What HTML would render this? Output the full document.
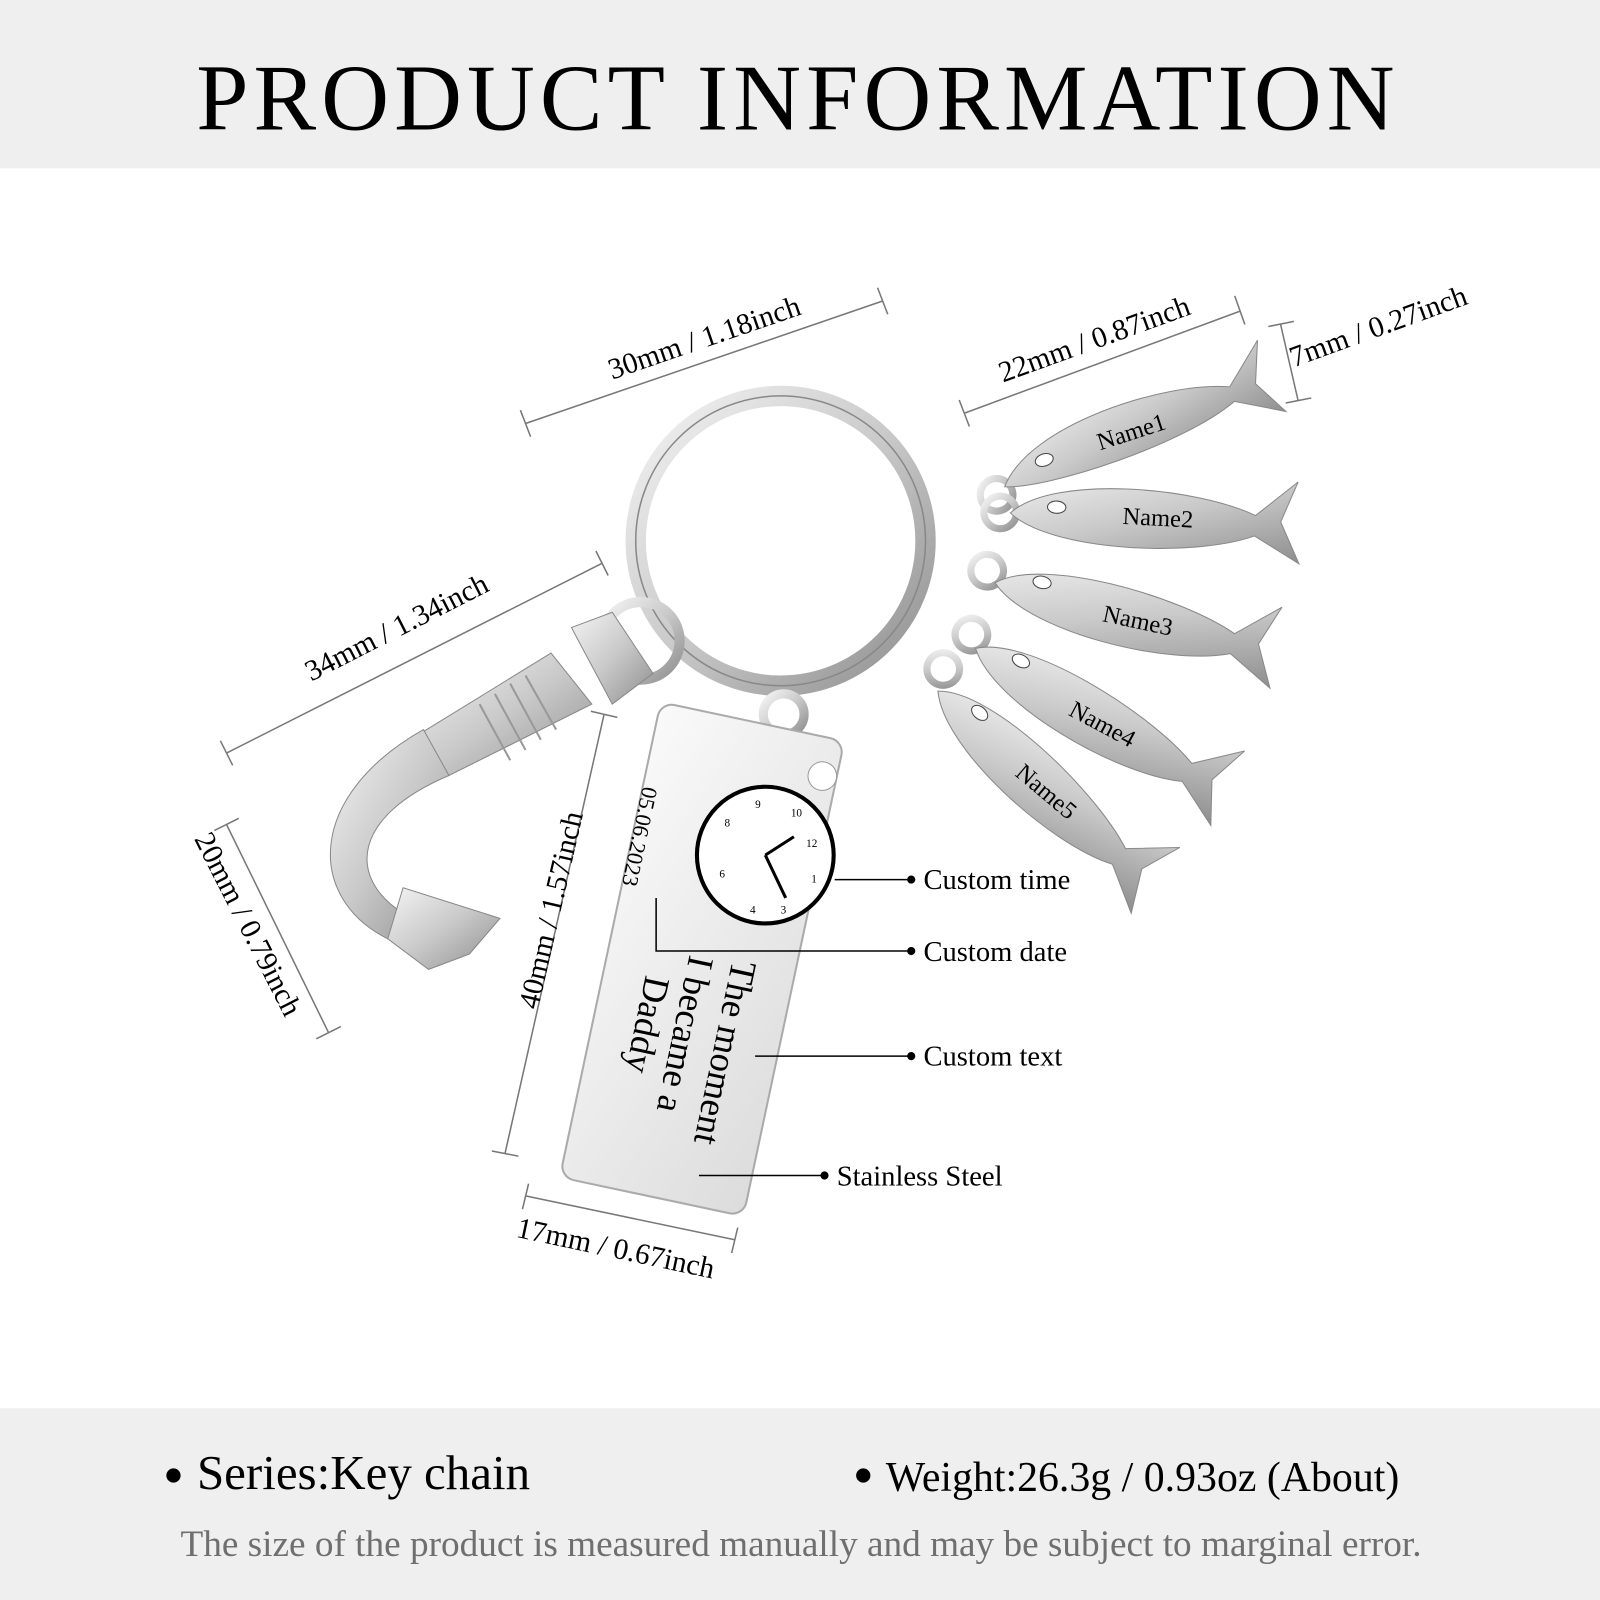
<!DOCTYPE html>
<html><head><meta charset="utf-8"><style>
html,body{margin:0;padding:0;background:#fff;}
svg{display:block;}
text{font-family:"Liberation Serif",serif;}
</style></head><body>
<svg width="1600" height="1600" viewBox="0 0 1568 1568" xmlns="http://www.w3.org/2000/svg">
<defs>
<linearGradient id="met" x1="0" y1="0" x2="1" y2="1">
<stop offset="0" stop-color="#f4f4f4"/><stop offset="0.5" stop-color="#c9c9c9"/><stop offset="1" stop-color="#8e8e8e"/>
</linearGradient>
<linearGradient id="tag" x1="0" y1="0" x2="1" y2="1">
<stop offset="0" stop-color="#fafafa"/><stop offset="1" stop-color="#dcdcdc"/>
</linearGradient>
</defs>
<rect x="0" y="0" width="1568" height="165" fill="#efefef"/>
<text x="782" y="127" font-size="92" text-anchor="middle" fill="#000" letter-spacing="5">PRODUCT  INFORMATION</text>
<rect x="0" y="1380" width="1568" height="188" fill="#efefef"/>
<circle cx="170" cy="1446" r="7" fill="#000"/>
<text x="193" y="1459" font-size="48">Series:Key chain</text>
<circle cx="846" cy="1446" r="7" fill="#000"/>
<text x="868" y="1461" font-size="41">Weight:26.3g / 0.93oz (About)</text>
<text x="785" y="1525" font-size="36.5" fill="#6f6f6f" text-anchor="middle">The size of the product is measured manually and may be subject to marginal error.</text>

<!-- ring -->
<circle cx="765" cy="530" r="142" fill="none" stroke="url(#met)" stroke-width="20"/>
<circle cx="765" cy="530" r="142" fill="none" stroke="#888" stroke-width="1.5"/>
<!-- hook -->
<g>
<circle cx="628" cy="628" r="38" fill="none" stroke="url(#met)" stroke-width="10"/>
<path d="M560 615 L600 600 L640 660 L600 690 Z" fill="url(#met)" stroke="#888"/>
<path d="M410 720 L540 640 L580 690 L440 760 Z" fill="url(#met)" stroke="#888"/>
<g stroke="#999" stroke-width="2">
<line x1="470" y1="690" x2="500" y2="745"/><line x1="485" y1="680" x2="515" y2="735"/><line x1="500" y1="670" x2="530" y2="725"/><line x1="515" y1="662" x2="545" y2="715"/>
</g>
<path d="M415 715 C300 780 300 880 380 920 L395 895 C340 860 345 800 440 760 Z" fill="url(#met)" stroke="#888"/>
<path d="M380 920 L395 870 L490 900 L460 935 L420 950 Z" fill="url(#met)" stroke="#888"/>
</g>
<!-- tag -->
<circle cx="768" cy="700" r="20" fill="none" stroke="url(#met)" stroke-width="9"/>
<g transform="translate(688 940) rotate(12)">
<rect x="-92" y="-238" width="184" height="476" rx="14" fill="url(#tag)" stroke="#aaa" stroke-width="2"/>
<circle cx="78" cy="-200" r="14" fill="#fff" stroke="#999"/>
</g>
<circle cx="750" cy="838" r="67" fill="#fff" stroke="#000" stroke-width="4"/>
<line x1="750" y1="838" x2="778" y2="820" stroke="#000" stroke-width="3"/>
<line x1="750" y1="838" x2="770" y2="880" stroke="#000" stroke-width="3"/>
<g font-size="11" font-family="Liberation Sans" fill="#000">
<text x="790" y="830">12</text><text x="795" y="865">1</text><text x="765" y="895">3</text><text x="735" y="895">4</text><text x="705" y="860">6</text><text x="710" y="810">8</text><text x="740" y="792">9</text><text x="775" y="800">10</text>
</g>
<text transform="translate(630 770) rotate(102)" font-size="22">05.06.2023</text>
<g font-size="36">
<text transform="translate(718 940) rotate(102)">The moment</text>
<text transform="translate(676 935) rotate(102)">I became a</text>
<text transform="translate(633 955) rotate(102)">Daddy</text>
</g>
<!-- fish -->
<g font-family="Liberation Sans" font-size="24">
<g transform="translate(1110 410) rotate(-18)">
<circle cx="-150" cy="30" r="16" fill="none" stroke="url(#met)" stroke-width="7"/>
<path d="M-140 25 C-100 -25 40 -25 100 0 L140 -35 L125 5 L145 40 L100 15 C40 40 -100 40 -140 25 Z" fill="url(#met)" stroke="#888"/>
<ellipse cx="-95" cy="12" rx="9" ry="6" fill="#fff" stroke="#444"/><text x="-40" y="20">Name1</text></g>
<g transform="translate(1130 510) rotate(3)">
<circle cx="-150" cy="0" r="16" fill="none" stroke="url(#met)" stroke-width="7"/>
<path d="M-140 0 C-100 -40 40 -35 100 -10 L140 -45 L125 -5 L145 35 L100 10 C40 35 -100 35 -140 0 Z" fill="url(#met)" stroke="#888"/>
<ellipse cx="-95" cy="-8" rx="9" ry="6" fill="#fff" stroke="#444"/><text x="-30" y="5">Name2</text></g>
<g transform="translate(1110 610) rotate(12)">
<circle cx="-150" cy="-20" r="16" fill="none" stroke="url(#met)" stroke-width="7"/>
<path d="M-140 -10 C-100 -45 40 -35 100 -10 L140 -45 L125 -5 L145 35 L100 10 C40 35 -100 30 -140 -10 Z" fill="url(#met)" stroke="#888"/>
<ellipse cx="-95" cy="-20" rx="9" ry="6" fill="#fff" stroke="#444"/><text x="-30" y="5">Name3</text></g>
<g transform="translate(1075 710) rotate(28)">
<circle cx="-150" cy="-20" r="16" fill="none" stroke="url(#met)" stroke-width="7"/>
<path d="M-140 -10 C-100 -45 40 -35 100 -10 L140 -45 L125 -5 L145 35 L100 10 C40 35 -100 30 -140 -10 Z" fill="url(#met)" stroke="#888"/>
<ellipse cx="-95" cy="-20" rx="9" ry="6" fill="#fff" stroke="#444"/><text x="-30" y="5">Name4</text></g>
<g transform="translate(1020 775) rotate(40)">
<circle cx="-150" cy="-30" r="16" fill="none" stroke="url(#met)" stroke-width="7"/>
<path d="M-140 -10 C-100 -45 40 -35 100 -10 L140 -45 L125 -5 L145 35 L100 10 C40 35 -100 30 -140 -10 Z" fill="url(#met)" stroke="#888"/>
<ellipse cx="-95" cy="-20" rx="9" ry="6" fill="#fff" stroke="#444"/><text x="-30" y="5">Name5</text></g>
</g>
<!-- dimension lines -->
<g stroke="#777" stroke-width="1.5" fill="none">
<line x1="515" y1="415" x2="865" y2="295"/><line x1="510" y1="402" x2="520" y2="428"/><line x1="860" y1="282" x2="870" y2="308"/>
<line x1="945" y1="405" x2="1215" y2="305"/><line x1="940" y1="392" x2="950" y2="418"/><line x1="1210" y1="290" x2="1220" y2="318"/>
<line x1="1255" y1="318" x2="1272" y2="392"/><line x1="1243" y1="320" x2="1268" y2="315"/><line x1="1260" y1="395" x2="1285" y2="390"/>
<line x1="222" y1="738" x2="590" y2="552"/><line x1="216" y1="726" x2="228" y2="750"/><line x1="584" y1="540" x2="596" y2="564"/>
<line x1="222" y1="808" x2="322" y2="1012"/><line x1="210" y1="814" x2="234" y2="802"/><line x1="310" y1="1018" x2="334" y2="1006"/>
<line x1="495" y1="1130" x2="592" y2="700"/><line x1="482" y1="1128" x2="508" y2="1133"/><line x1="579" y1="697" x2="605" y2="703"/>
<line x1="515" y1="1172" x2="720" y2="1215"/><line x1="518" y1="1160" x2="512" y2="1185"/><line x1="723" y1="1203" x2="717" y2="1228"/>
</g>
<g font-size="29" fill="#000">
<text transform="translate(600 372) rotate(-19)">30mm / 1.18inch</text>
<text transform="translate(983 375) rotate(-20)">22mm / 0.87inch</text>
<text transform="translate(1268 360) rotate(-20)">7mm / 0.27inch</text>
<text transform="translate(305 668) rotate(-27)">34mm / 1.34inch</text>
<text transform="translate(190 822) rotate(63)">20mm / 0.79inch</text>
<text transform="translate(527 990) rotate(-77)">40mm / 1.57inch</text>
<text transform="translate(505 1212) rotate(12)">17mm / 0.67inch</text>
</g>
<!-- callouts -->
<g stroke="#000" stroke-width="1.5">
<line x1="818" y1="862" x2="893" y2="862"/>
<polyline points="643,880 643,932 893,932" fill="none"/>
<line x1="740" y1="1035" x2="893" y2="1035"/>
<line x1="685" y1="1152" x2="808" y2="1152"/>
</g>
<g fill="#000"><circle cx="893" cy="862" r="4"/><circle cx="893" cy="932" r="4"/><circle cx="893" cy="1035" r="4"/><circle cx="808" cy="1152" r="4"/></g>
<g font-size="28">
<text x="905" y="871">Custom time</text>
<text x="905" y="942">Custom date</text>
<text x="905" y="1044">Custom text</text>
<text x="820" y="1162">Stainless Steel</text>
</g>
</svg>
</body></html>
